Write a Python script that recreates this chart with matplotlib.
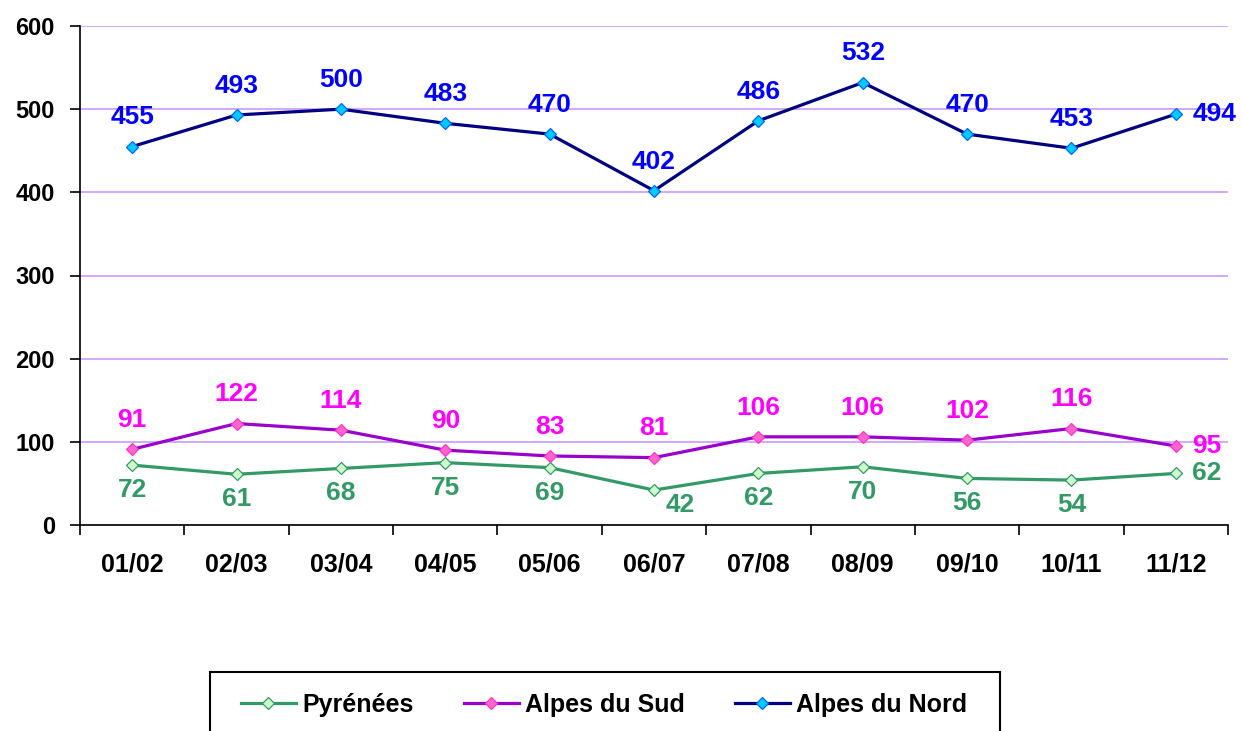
import matplotlib
matplotlib.use("Agg")
import matplotlib.pyplot as plt
from matplotlib.patches import Rectangle
import numpy as np

# Data
seasons = ["01/02", "02/03", "03/04", "04/05", "05/06", "06/07",
           "07/08", "08/09", "09/10", "10/11", "11/12"]
pyrenees = [72, 61, 68, 75, 69, 42, 62, 70, 56, 54, 62]
alpes_sud = [91, 122, 114, 90, 83, 81, 106, 106, 102, 116, 95]
alpes_nord = [455, 493, 500, 483, 470, 402, 486, 532, 470, 453, 494]
yticks = [0, 100, 200, 300, 400, 500, 600]

plt.rcParams['font.family'] = ['Liberation Sans', 'DejaVu Sans']

fig = plt.figure(figsize=(12.42, 7.31), dpi=100)
ax = fig.add_axes([80 / 1242, 1 - 525 / 731, 1148 / 1242, 499 / 731])

x = np.arange(len(seasons))

# name, values, line colour, marker fill, marker edge, label colour, label side
series = [
    ("Pyrénées", pyrenees, "#339966", "#ccffcc", "#339966", "#339966", "below"),
    ("Alpes du Sud", alpes_sud, "#9900cc", "#ff66cc", "#ff33cc", "#ff00ff", "above"),
    ("Alpes du Nord", alpes_nord, "#000080", "#00ccff", "#0066ff", "#0000ff", "above"),
]

lab_kw = dict(fontsize=19, fontweight="bold", textcoords="offset points",
              va="center")
handles = []
for name, vals, lc, mfc, mec, tc, side in series:
    h, = ax.plot(x, vals, color=lc, lw=2.3, marker="D", ms=6.5,
                 mfc=mfc, mec=mec, mew=0.9, label=name, zorder=3)
    handles.append(h)
    for i, v in enumerate(vals):
        if i == len(x) - 1:
            off, ha = (12, 0), "left"
        elif name == "Pyrénées" and seasons[i] == "06/07":
            off, ha = (19, -11), "center"
        elif side == "above":
            off, ha = (0, 21), "center"
        else:
            off, ha = (0, -18), "center"
        ax.annotate(str(v), (x[i], v), xytext=off, ha=ha, color=tc, **lab_kw)

ax.set_xlim(-0.5, len(x) - 0.5)
ax.set_ylim(0, 600)
ax.set_yticks(yticks)
ax.yaxis.grid(True, color="#cc99ff", lw=1.2)
ax.set_axisbelow(True)

ax.set_xticks(x)
ax.set_xticklabels(seasons, fontsize=18, fontweight="bold")
ax.set_xticks(np.arange(-0.5, len(x), 1.0), minor=True)
ax.tick_params(axis="x", which="major", length=0, pad=20)
ax.tick_params(axis="x", which="minor", length=7, width=1.2, direction="out")
ax.tick_params(axis="y", length=7, width=1.2, direction="out", pad=11,
               labelsize=17)
for t in ax.get_yticklabels():
    t.set_fontweight("bold")

for s in ["top", "right"]:
    ax.spines[s].set_visible(False)
for s in ["left", "bottom"]:
    ax.spines[s].set_linewidth(1.2)
    ax.spines[s].set_color("black")

# legend box, cut by the bottom edge of the picture
fig.patches.append(Rectangle((210 / 1242, -0.05), 790 / 1242, 1 - 672 / 731 + 0.05,
                             transform=fig.transFigure, fill=False,
                             edgecolor="black", lw=1.5))
fig.legend(handles=handles, loc="center", bbox_to_anchor=(604 / 1242, 1 - 705 / 731),
           ncol=3, frameon=False, handlelength=2.2, columnspacing=2.0,
           handletextpad=0.25,
           prop={"weight": "bold", "size": 18})

fig.savefig("out.png", dpi=100)
